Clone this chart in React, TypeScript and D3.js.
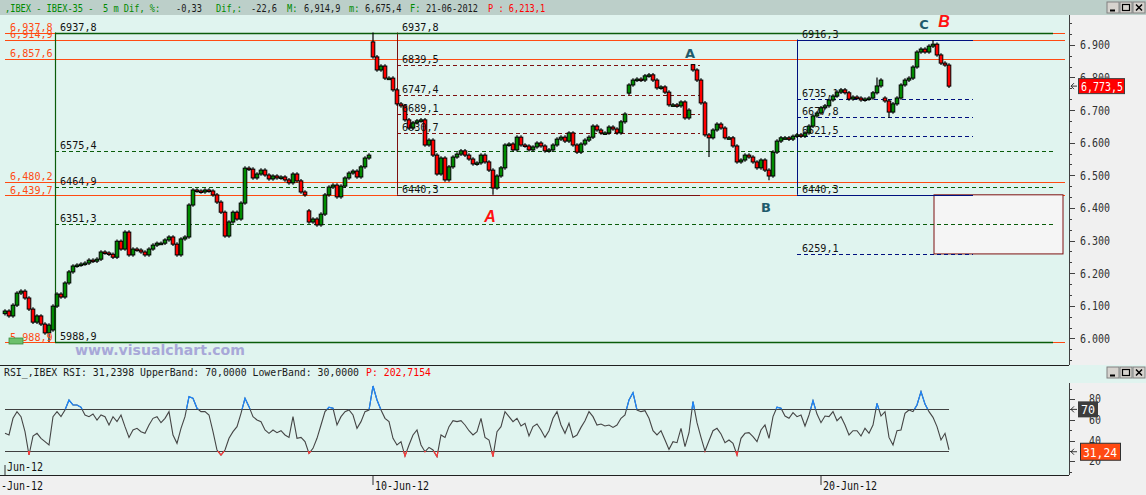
import React from "react";
import * as d3 from "d3";

// ---------- DATA ----------
// 30-minute style candles (closing prices), Jun-1 .. Jun-21 2012, IBEX-35
const closes = [
  6084, 6069, 6102, 6139, 6145, 6124, 6090, 6050, 6069, 6044, 6017, 6041,
  6099, 6136, 6127, 6170, 6204, 6222, 6225, 6228, 6231, 6240, 6237, 6243, 6265, 6262, 6258, 6249,
  6298, 6274, 6326, 6256, 6274, 6271, 6265, 6256, 6274, 6286, 6292, 6292, 6302, 6311, 6289, 6256,
  6305, 6311, 6409, 6455, 6452, 6449, 6455, 6452, 6440, 6418, 6387, 6314, 6357, 6387, 6366, 6415,
  6522, 6519, 6492, 6504, 6516, 6501, 6489, 6498, 6492, 6495, 6486, 6477, 6504, 6483, 6449, 6440,
  6357, 6366, 6348, 6381, 6440, 6464, 6470, 6434, 6467, 6492, 6507, 6513, 6495, 6526, 6553, 6562,
  6863, 6823, 6835, 6798, 6798, 6762, 6719, 6713, 6670, 6645, 6661, 6667, 6670, 6593, 6608, 6562,
  6504, 6553, 6486, 6526, 6556, 6565, 6575, 6562, 6550, 6535, 6538, 6562, 6541, 6516, 6461, 6498,
  6523, 6593, 6596, 6578, 6617, 6593, 6590, 6578, 6587, 6599, 6590, 6575, 6578, 6593, 6611, 6617,
  6605, 6630, 6593, 6571, 6596, 6608, 6617, 6651, 6639, 6630, 6630, 6648, 6642, 6630, 6664, 6688,
  6777, 6792, 6795, 6792, 6805, 6808, 6792, 6768, 6771, 6755, 6716, 6716, 6713, 6725, 6676, 6700,
  6823, 6792, 6722, 6624, 6615, 6639, 6657, 6645, 6615, 6615, 6590, 6541, 6547, 6562, 6556, 6541,
  6523, 6547, 6516, 6498, 6571, 6605, 6615, 6615, 6611, 6620, 6624, 6620, 6630, 6651, 6682, 6691,
  6707, 6713, 6731, 6743, 6755, 6762, 6753, 6734, 6740, 6737, 6731, 6734, 6737, 6753, 6774, 6792,
  6728, 6694, 6719, 6737, 6777, 6792, 6798, 6832, 6878, 6887, 6878, 6896, 6902, 6869, 6844, 6838,
  6773.5,
];
// session opens (gaps)
const sessionOpenIdx = [0, 12, 76, 92, 156, 172, 220];
const sessionOpenVal = [6076, 6026, 6391, 6909, 6752, 6839.5, 6737];
// notable highs / lows
const highMarks: [number, number][] = [[92, 6937.8], [172, 6839.5], [232, 6914.9], [218, 6800]];
const lowMarks: [number, number][] = [[11, 5988.9], [122, 6440.3], [176, 6556], [191, 6485], [221, 6675.4]];

const rsi = [
  47, 45.4, 61.4, 67.8, 63, 48.6, 26.2, 44.4, 47, 42.2, 39, 35.8,
  63, 67.8, 63, 69.4, 79, 74.2, 74.2, 72, 64.6, 63, 65.5, 59.8, 64.6, 63, 55, 63,
  58.2, 64.6, 53.4, 43.1, 50.2, 51.8, 48.6, 47, 55, 61.4, 63, 57.2, 61.4, 67.8, 45.4, 37.4,
  51.8, 63, 82.2, 80.6, 71, 67.8, 67.8, 64.6, 48.6, 31, 26.2, 31, 42.2, 48.6, 53.4, 66.2,
  80.6, 72.6, 63, 59.8, 58.2, 50.2, 47, 50.2, 47.6, 49.5, 45.4, 43.1, 63, 42.2, 43.1, 39,
  27.8, 32.6, 42.2, 55, 67.8, 72, 71, 55, 63, 67.8, 69.4, 64.6, 51.8, 58.2, 67.8, 69.4,
  92.4, 79, 69.4, 61.4, 58.2, 42.2, 35.8, 39, 25.2, 35.8, 45.4, 50.2, 35.8, 29.4, 33.5, 31,
  24.6, 45.4, 43.1, 53.4, 59.1, 58.2, 59.1, 55, 49.5, 45.4, 48.6, 61.4, 43.1, 40.6, 24.6, 48.6,
  53.4, 67.8, 63, 58.2, 61.4, 54, 56.6, 44.4, 53.4, 55.9, 50.2, 43.1, 49.5, 61.4, 67.8, 55,
  47, 56.6, 43.1, 45.4, 52.7, 59.1, 67.8, 63, 55, 55.9, 54, 55, 52.7, 55, 61.4, 64.6,
  79, 86, 69.4, 67.8, 68.7, 61.4, 49.5, 45.4, 49.5, 40.6, 31.6, 39, 38, 51.8, 34.2, 47.6,
  77.4, 57.2, 43.1, 30, 39.9, 49.5, 51.8, 46.3, 38, 40.6, 37.4, 26.2, 42.2, 47, 47.6, 43.8,
  39, 50.2, 55, 42.2, 63, 72, 71, 63.6, 61.4, 66.8, 63, 64.6, 54, 64.6, 78.3, 65.5,
  57.2, 63.6, 63, 67.8, 59.1, 63, 55, 45.4, 49.5, 49.5, 44.4, 51.8, 47, 55, 75.8, 63.6,
  67.8, 43.1, 35.8, 49.5, 50.2, 66.2, 69.4, 67.8, 74.2, 87, 75.1, 67.8, 62.3, 53.4, 40.6, 47,
  31.24,
];
const rsiUpper = 70;
const rsiLower = 30;

// horizontal levels drawn on the chart
const orangeLevels = [6937.8, 6914.9, 6857.6, 6480.2, 6439.7, 5988.9];
const greenLevels = [6937.8, 6575.4, 6464.9, 6351.3, 5988.9];
const redLevels = [6937.8, 6839.5, 6747.4, 6689.1, 6630.7, 6440.3];
const blueLevels = [6916.3, 6735.1, 6677.8, 6621.5, 6440.3, 6259.1];
const targetBox = { top: 6440.3, bottom: 6259.1 };

// tool anchors, in bar indices
const orangeSpan = [0, 265];
const greenSpan = [12.5, 262];
const redSpan = [98, 173.75];
const blueSpan = [198, 242];
const boxSpan = [232.25, 264.5];

const dateTicks = [
  { idx: 92, label: "10-Jun-12" },
  { idx: 204, label: "20-Jun-12" },
];

const waveLabels = [
  { t: "A", idx: 171.25, v: 6875, kind: "teal" },
  { t: "B", idx: 190.25, v: 6400, kind: "teal" },
  { t: "C", idx: 229.75, v: 6961, kind: "teal" },
  { t: "A", idx: 121.25, v: 6375, kind: "red" },
  { t: "B", idx: 234.75, v: 6971, kind: "red" },
];

// header pieces: [text, colour role, left x]
const headerParts: [string, string, number][] = [
  [",IBEX - IBEX-35 -", "g", 5],
  ["5 m Dif, %:", "g", 103],
  ["-0,33", "k", 176],
  ["Dif,:", "g", 216],
  ["-22,6", "k", 251],
  ["M:", "g", 287],
  ["6,914,9", "k", 304],
  ["m:", "g", 349],
  ["6,675,4", "k", 365],
  ["F:", "g", 410],
  ["21-06-2012", "k", 426],
  ["P : 6,213,1", "r", 488],
];
const rsiHeader = "RSI_,IBEX RSI: 31,2398 UpperBand: 70,0000 LowerBand: 30,0000";
const rsiHeaderP = "P: 202,7154";

// ---------- STYLE ----------
const mono = "'DejaVu Sans Mono', monospace";
const C = {
  header: "#bccfc9",
  mint: "#e0f4ef",
  axisBg: "#f0f0f0",
  orange: "#ff4a12",
  green: "#0a5c0a",
  red: "#7d1010",
  navy: "#00107f",
  up: "#008c00",
  down: "#ff0000",
};

const fmtLevel = (v: number) => v.toFixed(1).replace(".", ",");
const fmtLeft = (v: number) => {
  const th = Math.floor(v / 1000);
  const rest = (v - th * 1000).toFixed(1).padStart(5, "0").replace(".", ",");
  return `${th},${rest}`;
};
const fmtAxis = (v: number) => {
  const th = Math.floor(v / 1000);
  return `${th}.${String(Math.round(v - th * 1000)).padStart(3, "0")}`;
};

function GT({ x, y, s, size = 12, w = 6, fill = "#111", anchor = "start" }: any) {
  return (
    <text x={x} y={y} fontFamily={mono} fontSize={size} fill={fill} textAnchor={anchor}
      textLength={s.length * w} lengthAdjust="spacingAndGlyphs" style={{ whiteSpace: "pre" }}>
      {s}
    </text>
  );
}

function WinButtons({ y }: { y: number }) {
  const xs = [1107, 1120, 1133];
  return (
    <g>
      {xs.map((bx, k) => (
        <g key={k}>
          <rect x={bx} y={y} width={12} height={11} fill="#d6d3ce" stroke="#808080" strokeWidth={1} />
          {k === 0 && <line x1={bx + 3} x2={bx + 8} y1={y + 8.5} y2={y + 8.5} stroke="#000" strokeWidth={2} />}
          {k === 1 && <rect x={bx + 2.5} y={y + 2.5} width={7} height={6} fill="none" stroke="#000" strokeWidth={1.2} />}
          {k === 2 && <path d={`M${bx + 3},${y + 2.5}L${bx + 9},${y + 8.5}M${bx + 9},${y + 2.5}L${bx + 3},${y + 8.5}`} stroke="#000" strokeWidth={1.5} />}
        </g>
      ))}
    </g>
  );
}

function Arrow({ x, y }: { x: number; y: number }) {
  return <path d={`M${x + 6},${y}L${x},${y}M${x + 3},${y - 3}L${x},${y}L${x + 3},${y + 3}`} stroke="#333" strokeWidth={1} fill="none" />;
}

export default function App() {
  const x = d3.scaleLinear().domain([0, 1]).range([5, 9]);
  const y = d3.scaleLinear().domain([5918.6, 6982.3]).range([365, 18]);
  const ry = d3.scaleLinear().domain([0, 100]).range([482.3, 378.1]);

  const openMap = new Map(sessionOpenIdx.map((k, j) => [k, sessionOpenVal[j]]));
  const hiMap = new Map(highMarks);
  const loMap = new Map(lowMarks);
  const bars = closes.map((c, i) => {
    const o = openMap.has(i) ? (openMap.get(i) as number) : closes[i - 1];
    return {
      i, o, c,
      h: hiMap.has(i) ? (hiMap.get(i) as number) : Math.max(o, c),
      l: loMap.has(i) ? (loMap.get(i) as number) : Math.min(o, c),
      hx: hiMap.has(i), lx: loMap.has(i),
    };
  });

  const rsiLine = d3.line<number>().x((_, i) => x(i)).y((v) => ry(v))(rsi) || "";
  const last = closes[closes.length - 1];
  const lastRsi = rsi[rsi.length - 1];

  const axisTicks = d3.range(-2, 30).map((k) => ({ v: 6000 + (k * 100) / 3, major: k % 3 === 0 }));
  const rsiTicks = d3.range(10, 100, 10);

  const hLine = (v: number, span: number[], color: string, dashed: boolean, key: string, sw = 1) => (
    <line key={key} x1={x(span[0])} x2={x(span[1])} y1={Math.round(y(v)) + 0.5} y2={Math.round(y(v)) + 0.5}
      stroke={color} strokeWidth={sw} strokeDasharray={dashed ? "4,3" : undefined} />
  );
  const hdrColor: Record<string, string> = { g: "#008a00", k: "#1a1a1a", r: "#ff0000" };

  return (
    <svg width={1146} height={495} style={{ position: "absolute", left: 0, top: 0, display: "block" }}>
      <defs>
        <clipPath id="mainClip"><rect x={0} y={15} width={1069} height={350} /></clipPath>
        <clipPath id="above"><rect x={0} y={370} width={1069} height={ry(rsiUpper) - 370} /></clipPath>
        <clipPath id="below"><rect x={0} y={ry(rsiLower)} width={1069} height={475 - ry(rsiLower)} /></clipPath>
        <clipPath id="rsiClip"><rect x={0} y={383} width={1069} height={92} /></clipPath>
      </defs>

      {/* backgrounds */}
      <rect x={0} y={0} width={1146} height={495} fill={C.mint} />
      <rect x={1069} y={15} width={77} height={350} fill={C.axisBg} />
      <rect x={1069} y={383} width={77} height={92} fill={C.axisBg} />
      <rect x={0} y={475} width={1146} height={20} fill={C.axisBg} />

      {/* ----- main price panel ----- */}
      <g clipPath="url(#mainClip)">
        {orangeLevels.map((v, k) => hLine(v, orangeSpan, C.orange, false, "o" + k, 1.2))}

        {/* target box */}
        <rect x={x(boxSpan[0])} y={y(targetBox.top)} width={x(boxSpan[1]) - x(boxSpan[0])}
          height={y(targetBox.bottom) - y(targetBox.top)} fill="#f5f5f5" stroke={C.red} strokeWidth={1} />

        {/* dark red retracement */}
        <line x1={x(redSpan[0]) + 0.5} x2={x(redSpan[0]) + 0.5} y1={y(redLevels[0])} y2={y(redLevels[redLevels.length - 1])} stroke={C.red} />
        {redLevels.map((v, k) => hLine(v, redSpan, C.red, k !== 0 && k !== redLevels.length - 1, "r" + k))}

        {/* navy retracement */}
        <line x1={x(blueSpan[0]) + 0.5} x2={x(blueSpan[0]) + 0.5} y1={y(blueLevels[0])} y2={y(blueLevels[4])} stroke={C.navy} />
        {blueLevels.map((v, k) => hLine(v, blueSpan, C.navy, !(k === 0 || k === 4), "b" + k))}

        {/* green retracement */}
        <line x1={x(greenSpan[0]) + 0.5} x2={x(greenSpan[0]) + 0.5} y1={y(greenLevels[0])} y2={y(greenLevels[greenLevels.length - 1])} stroke={C.green} strokeWidth={1.2} />
        {greenLevels.map((v, k) => hLine(v, greenSpan, C.green, k !== 0 && k !== greenLevels.length - 1, "g" + k, k === 0 || k === greenLevels.length - 1 ? 1.4 : 1))}

        {/* candles */}
        {bars.map((b) => {
          const cx = x(b.i);
          const top = y(Math.max(b.o, b.c));
          const bot = y(Math.min(b.o, b.c));
          return (
            <g key={b.i}>
              <line x1={cx} x2={cx} y1={y(b.h) - (b.hx ? 0 : 1.8)} y2={y(b.l) + (b.lx ? 0 : 1.8)} stroke="#000" strokeWidth={1.2} />
              <rect x={cx - 1.8} y={top} width={3.6} height={Math.max(1.5, bot - top)}
                fill={b.c >= b.o ? C.up : C.down} stroke="#000" strokeWidth={1} />
            </g>
          );
        })}

        {/* level labels */}
        {greenLevels.map((v, k) => (
          <GT key={"gl" + k} x={x(greenSpan[0]) + 5} y={y(v) - 2} s={fmtLevel(v)} size={10.5} w={6.1} fill="#111" />
        ))}
        {redLevels.map((v, k) => (
          <GT key={"rl" + k} x={x(redSpan[0]) + 5} y={y(v) - 2} s={fmtLevel(v)} size={10.5} w={6.1} fill="#111" />
        ))}
        {blueLevels.map((v, k) => (
          <GT key={"bl" + k} x={x(blueSpan[0]) + 5} y={y(v) - 2} s={fmtLevel(v)} size={10.5} w={6.1} fill="#111" />
        ))}
        {orangeLevels.map((v, k) => (
          <GT key={"ol" + k} x={10} y={y(v) - 1.5} s={fmtLeft(v)} size={10.5} w={6.1} fill={C.orange} />
        ))}
        <rect x={9} y={338} width={14} height={6} fill="#6cc06c" stroke="#3a8a3a" strokeWidth={0.8} />

        {/* wave labels */}
        {waveLabels.map((w, k) =>
          w.kind === "teal" ? (
            <text key={"w" + k} x={x(w.idx)} y={y(w.v)} textAnchor="middle" dominantBaseline="central"
              fontFamily="'DejaVu Sans', sans-serif" fontWeight="bold" fontSize={13} fill="#1f5a6b">{w.t}</text>
          ) : (
            <text key={"w" + k} x={x(w.idx)} y={y(w.v)} textAnchor="middle" dominantBaseline="central"
              fontFamily="'Liberation Sans', Arial, sans-serif" fontWeight="bold" fontStyle="italic" fontSize={16} fill="#ff1010">{w.t}</text>
          )
        )}

        {/* watermark */}
        <text x={75} y={355} fontFamily="'DejaVu Sans', sans-serif" fontWeight="bold" fontSize={14}
          fill="#a8a8d8" textLength={170} lengthAdjust="spacingAndGlyphs">www.visualchart.com</text>
      </g>

      {/* right price axis */}
      <line x1={1069.5} x2={1069.5} y1={15} y2={365} stroke="#404040" />
      {axisTicks.map((t, k) => (
        <line key={"t" + k} x1={1069} x2={1069 + (t.major ? 6 : 3)} y1={Math.round(y(t.v)) + 0.5} y2={Math.round(y(t.v)) + 0.5} stroke="#404040" />
      ))}
      {axisTicks.filter((t) => t.major).map((t, k) => (
        <GT key={"tl" + k} x={1080} y={y(t.v) + 4.5} s={fmtAxis(t.v)} size={12.5} w={6} fill="#303030" />
      ))}
      <Arrow x={1071} y={y(last)} />
      <rect x={1078.5} y={y(last) - 7.5} width={46} height={15} fill="#ff0000" stroke="#404040" />
      <GT x={1081} y={y(last) + 4.5} s={fmtLeft(last)} size={13} w={6} fill="#fff" />

      {/* header bar */}
      <rect x={0} y={0} width={1146} height={15} fill={C.header} />
      {headerParts.map(([s, role, hx], k) => (
        <text key={"h" + k} x={hx} y={11.5} fontFamily={mono} fontSize={10.5} fill={hdrColor[role]}
          textLength={s.length * 5.2} lengthAdjust="spacingAndGlyphs" style={{ whiteSpace: "pre" }}>{s}</text>
      ))}
      <WinButtons y={2} />

      {/* separator */}
      <line x1={0} x2={1069} y1={365.5} y2={365.5} stroke="#202020" strokeWidth={1.2} />

      {/* ----- RSI panel ----- */}
      <text x={4} y={376} fontFamily={mono} fontSize={10.5} fill="#1a1a1a" textLength={355} lengthAdjust="spacingAndGlyphs" style={{ whiteSpace: "pre" }}>{rsiHeader}</text>
      <text x={366} y={376} fontFamily={mono} fontSize={10.5} fill="#ff0000" textLength={65} lengthAdjust="spacingAndGlyphs" style={{ whiteSpace: "pre" }}>{rsiHeaderP}</text>
      <WinButtons y={367} />

      <line x1={x(0)} x2={x(236)} y1={Math.round(ry(rsiUpper)) + 0.5} y2={Math.round(ry(rsiUpper)) + 0.5} stroke="#404040" strokeWidth={1.2} />
      <line x1={x(0)} x2={x(236)} y1={Math.round(ry(rsiLower)) + 0.5} y2={Math.round(ry(rsiLower)) + 0.5} stroke="#404040" strokeWidth={1.2} />
      <g clipPath="url(#rsiClip)">
        <path d={rsiLine} fill="none" stroke="#454545" strokeWidth={1.1} />
        <path d={rsiLine} fill="none" stroke="#1a86ff" strokeWidth={1.2} clipPath="url(#above)" />
        <path d={rsiLine} fill="none" stroke="#ff3a3a" strokeWidth={1.2} clipPath="url(#below)" />
      </g>
      <line x1={x(0)} x2={x(0)} y1={465} y2={475} stroke="#303030" />
      <GT x={7} y={471} s="Jun-12" size={12.5} w={6} fill="#111" />

      {/* RSI axis */}
      <line x1={1069.5} x2={1069.5} y1={383} y2={475} stroke="#404040" />
      {rsiTicks.map((v) => (
        <line key={"rt" + v} x1={1069} x2={1069 + (v % 20 === 0 ? 6 : 3)} y1={Math.round(ry(v)) + 0.5} y2={Math.round(ry(v)) + 0.5} stroke="#404040" />
      ))}
      {[20, 40, 60, 80].map((v) => (
        <GT key={"rl" + v} x={1089} y={ry(v) + 4} s={String(v)} size={11.5} w={6} fill="#303030" />
      ))}
      <Arrow x={1071} y={ry(rsiUpper)} />
      <rect x={1078} y={ry(rsiUpper) - 8} width={20} height={16} fill="#3c3c3c" />
      <GT x={1081} y={ry(rsiUpper) + 5} s={String(rsiUpper)} size={13} w={7} fill="#fff" />
      <Arrow x={1071} y={ry(lastRsi) + 2} />
      <rect x={1080.5} y={ry(lastRsi) - 6.5} width={40} height={17} fill="#ff4a12" stroke="#303030" />
      <GT x={1083} y={ry(lastRsi) + 7} s={lastRsi.toFixed(2).replace(".", ",")} size={13} w={6.8} fill="#fff" />

      {/* date axis */}
      <line x1={0} x2={1069} y1={475.5} y2={475.5} stroke="#202020" strokeWidth={1.2} />
      <GT x={1} y={490} s="-Jun-12" size={12.5} w={6} fill="#111" />
      {dateTicks.map((d) => (
        <g key={d.label}>
          <line x1={x(d.idx)} x2={x(d.idx)} y1={476} y2={485} stroke="#303030" />
          <GT x={x(d.idx) + 2} y={490} s={d.label} size={12.5} w={6} fill="#111" />
        </g>
      ))}
    </svg>
  );
}
